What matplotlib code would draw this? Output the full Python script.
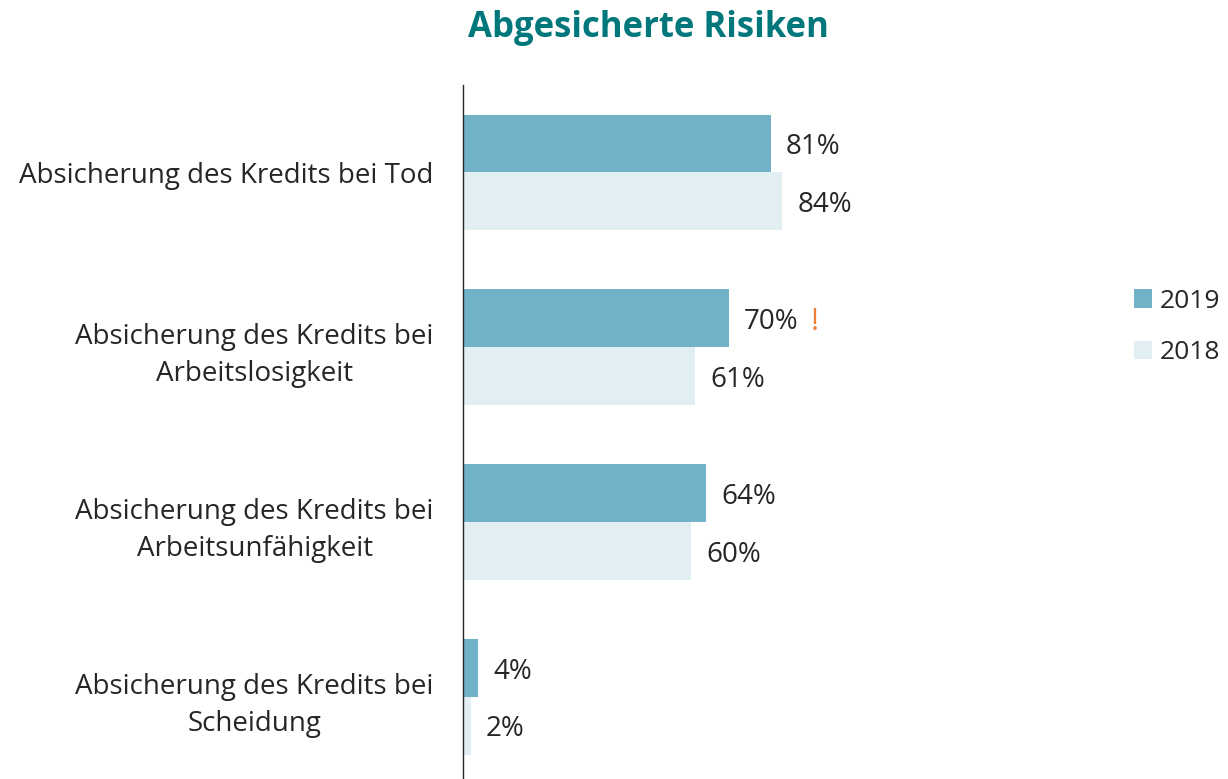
import numpy as np
import matplotlib.pyplot as plt

plt.rcParams['font.family'] = ['Open Sans', 'DejaVu Sans']

# data
categories = ["Absicherung des Kredits bei Tod",
              "Absicherung des Kredits bei\nArbeitslosigkeit",
              "Absicherung des Kredits bei\nArbeitsunfähigkeit",
              "Absicherung des Kredits bei\nScheidung"]
vals_2019 = [81, 70, 64, 4]
vals_2018 = [84, 61, 60, 2]
series_names = ["2019", "2018"]

c2019 = "#72B2C9"
c2018 = "#E1EFF3"

fig = plt.figure(figsize=(12.28, 7.79), dpi=100)
# axes: left edge x=463px, top y=85px
ax = fig.add_axes([463 / 1228, 0, (1100 - 463) / 1228, (779 - 85) / 779])

y = np.arange(len(categories))
h = 0.331
b1 = ax.barh(y - h / 2, vals_2019, height=h, color=c2019, label=series_names[0])
b2 = ax.barh(y + h / 2, vals_2018, height=h, color=c2018, label=series_names[1])

ax.set_xlim(0, (1100 - 463) / 3.8)
ax.set_ylim(3.5 - 5.5 / 175, -0.5)

for bars in (b1, b2):
    for r in bars:
        ax.text(r.get_width() + 4.0, r.get_y() + r.get_height() / 2 + 0.02, f"{int(r.get_width())}%",
                va="center", ha="left", fontsize=20, color="#262626")

# warning mark next to 70%
ax.text(vals_2019[1] + 21.5, y[1] - h / 2 + 0.02, "!", va="center", ha="left",
        fontsize=22, color="#ED7D31")

ax.set_yticks(y)
ax.set_yticklabels(categories, fontsize=20, color="#262626", linespacing=1.45,
                   ha="right", multialignment="center")
ax.tick_params(axis="y", length=0, pad=21)
ax.set_xticks([])
for s in ["top", "right", "bottom"]:
    ax.spines[s].set_visible(False)
ax.spines["left"].set_color("#262626")
ax.spines["left"].set_linewidth(1)

fig.text(648 / 1228, 1 - 28 / 779, "Abgesicherte Risiken", ha="center", va="center",
         fontsize=25, fontweight="bold", color="#00777A")

fig.legend(handles=[b1, b2], labels=series_names, loc="center left",
           bbox_to_anchor=(1134 / 1228, 1 - 327 / 779), frameon=False, fontsize=19,
           handlelength=0.68, handleheight=0.68, handletextpad=0.3, labelspacing=1.0,
           borderpad=0, borderaxespad=0, labelcolor="#262626")

fig.savefig("out.png", dpi=100)
